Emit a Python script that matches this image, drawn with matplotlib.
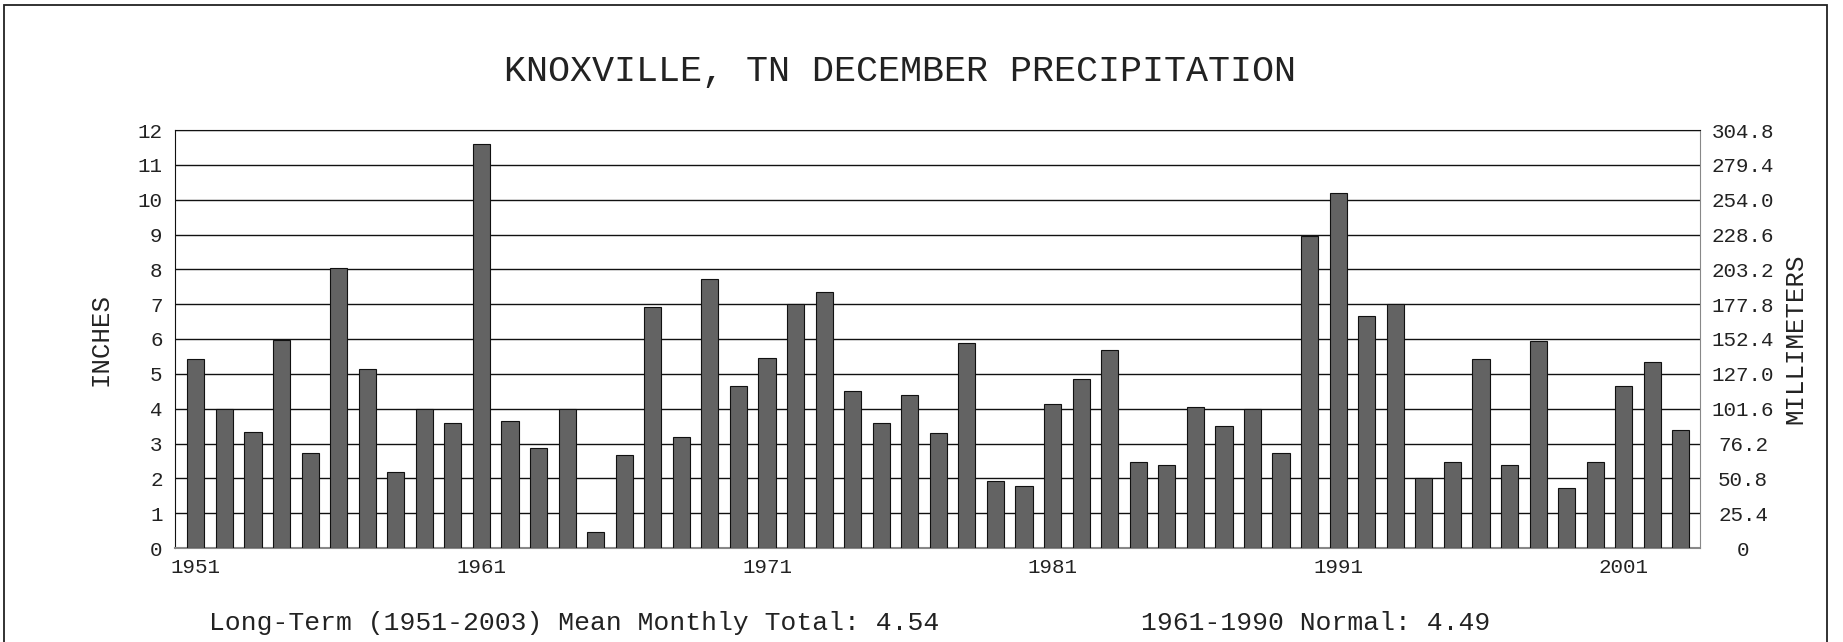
import matplotlib
matplotlib.use("Agg")
import matplotlib.pyplot as plt
from matplotlib.patches import Rectangle
import numpy as np

years = list(range(1951, 2004))
precip_in = [5.42, 3.99, 3.34, 5.96, 2.72, 8.03, 5.15, 2.17, 3.99, 3.60,
             11.60, 3.66, 2.86, 4.00, 0.45, 2.66, 6.92, 3.20, 7.71, 4.66,
             5.46, 7.01, 7.36, 4.50, 3.58, 4.40, 3.29, 5.89, 1.91, 1.77,
             4.12, 4.86, 5.67, 2.48, 2.37, 4.06, 3.49, 3.98, 2.72, 8.97,
             10.19, 6.65, 7.01, 2.01, 2.48, 5.42, 2.37, 5.93, 1.71, 2.46,
             4.66, 5.35, 3.40]
year_ticks = [1951, 1961, 1971, 1981, 1991, 2001]
inch_ticks = list(range(0, 13))
mm_ticks = [t * 25.4 for t in inch_ticks]
mm_labels = ["0"] + ["%.1f" % v for v in mm_ticks[1:]]

title = "KNOXVILLE, TN DECEMBER PRECIPITATION"
note_left = "Long-Term (1951-2003) Mean Monthly Total: 4.54"
note_right = "1961-1990 Normal: 4.49"

FONT = "Liberation Mono"
TXT = "#222222"

W, H = 1843, 642
fig = plt.figure(figsize=(W / 100, H / 100), dpi=100)
fig.patch.set_facecolor("white")

# outer border
fig.patches.append(Rectangle((4 / W, -0.05), (1827 - 4) / W, 1 - 5 / H + 0.05,
                             transform=fig.transFigure, fill=False,
                             edgecolor="#222222", linewidth=1.3))

ax = fig.add_axes([175 / W, 1 - 548 / H, (1700 - 175) / W, (548 - 130) / H])
ax.bar(years, precip_in, width=0.6, color="#636363", edgecolor="#111111",
       linewidth=0.8, zorder=3)
ax.set_xlim(1950.27, 2003.67)
ax.set_ylim(0, 12)
ax.set_yticks(inch_ticks)
ax.set_yticklabels([str(t) for t in inch_ticks], fontfamily=FONT, fontsize=15, color=TXT)
ax.set_xticks(year_ticks)
ax.set_xticklabels([str(y) for y in year_ticks], fontfamily=FONT, fontsize=15, color=TXT)
ax.tick_params(axis="y", length=0, pad=9)
ax.tick_params(axis="x", length=0, pad=7)
ax.yaxis.grid(True, color="#111111", linewidth=1.0, zorder=1)
ax.set_axisbelow(True)
ax.spines["top"].set_color("#111111")
ax.spines["left"].set_color("#111111")
ax.spines["right"].set_color("#888888")
ax.spines["bottom"].set_color("#888888")
ax.spines["bottom"].set_linewidth(1.5)

ax2 = ax.twinx()
ax2.set_ylim(0, 12 * 25.4)
ax2.set_yticks(mm_ticks)
ax2.set_yticklabels(mm_labels, fontfamily=FONT, fontsize=15, color=TXT)
for lbl in ax2.get_yticklabels():
    lbl.set_horizontalalignment("center")
ax2.tick_params(axis="y", length=0, pad=31)
for s in ax2.spines.values():
    s.set_visible(False)

fig.text(100 / W, 1 - 339 / H, "INCHES", fontfamily=FONT, fontsize=18.5,
         color=TXT, rotation=90, ha="center", va="center")
fig.text(1795 / W, 1 - 339 / H, "MILLIMETERS", fontfamily=FONT, fontsize=18.5,
         color=TXT, rotation=90, ha="center", va="center")

fig.text(900 / W, 1 - 72 / H, title, fontfamily=FONT, fontsize=26.5,
         color=TXT, ha="center", va="center")
fig.text(209 / W, 1 - 623 / H, note_left, fontfamily=FONT, fontsize=19,
         color=TXT, ha="left", va="center")
fig.text(1141 / W, 1 - 623 / H, note_right, fontfamily=FONT, fontsize=19,
         color=TXT, ha="left", va="center")

fig.savefig("out.png", dpi=100)
